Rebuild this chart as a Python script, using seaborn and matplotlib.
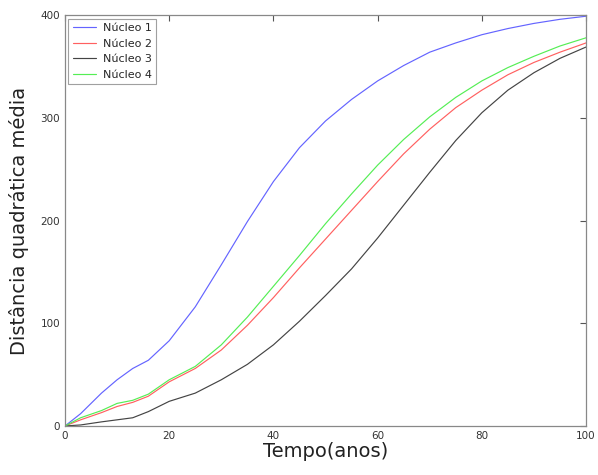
import numpy as np
import pandas as pd
import matplotlib
matplotlib.use('Agg')
import matplotlib.pyplot as plt
import seaborn as sns

# tempo (anos) and mean squared distance
tempo = [0, 3, 7, 10, 13, 16, 20, 25, 30, 35, 40, 45, 50, 55, 60, 65, 70, 75, 80, 85, 90, 95, 100]
nucleo1 = [0, 12, 32, 45, 56, 64, 83, 116, 157, 199, 238, 271, 297, 318, 336, 351, 364, 373, 381, 387, 392, 396, 399]
nucleo2 = [0, 6, 13, 19, 23, 29, 43, 56, 74, 98, 125, 154, 182, 210, 238, 265, 289, 310, 327, 342, 354, 364, 373]
nucleo3 = [0, 1, 4, 6, 8, 14, 24, 32, 45, 60, 79, 102, 127, 153, 183, 215, 247, 278, 305, 327, 344, 358, 369]
nucleo4 = [0, 8, 15, 22, 25, 31, 45, 58, 79, 106, 136, 166, 197, 226, 254, 279, 301, 320, 336, 349, 360, 370, 378]

labels = ['Núcleo 1', 'Núcleo 2', 'Núcleo 3', 'Núcleo 4']
colors = ['#6464ff', '#ff6060', '#444444', '#55ee55']

df = pd.DataFrame({
    'Tempo': tempo * 4,
    'Dist': nucleo1 + nucleo2 + nucleo3 + nucleo4,
    'Serie': np.repeat(labels, len(tempo)),
})

sns.set_style('white')
fig = plt.figure(figsize=(5.98, 4.75), dpi=100)
ax = fig.add_axes([0.1087, 0.1032, 0.8713, 0.8648])

sns.lineplot(data=df, x='Tempo', y='Dist', hue='Serie', palette=colors,
             linewidth=0.85, ax=ax)

ax.set_xlim(0, 100)
ax.set_ylim(0, 400)
ax.set_xticks([0, 20, 40, 60, 80, 100])
ax.set_yticks([0, 100, 200, 300, 400])
ax.tick_params(direction='in', top=True, right=True, length=4, width=0.8,
               color='#555555', labelsize=7.5, labelcolor='#333333')
for s in ax.spines.values():
    s.set_color('#888888')
    s.set_linewidth(0.9)

ax.set_xlabel('Tempo(anos)', fontsize=14, color='#222222', labelpad=1)
ax.set_ylabel('Distância quadrática média', fontsize=14, color='#222222', labelpad=8)

leg = ax.legend(loc='upper left', fontsize=8, frameon=True, fancybox=False,
                edgecolor='#888888', handlelength=2.1, handletextpad=0.6,
                borderaxespad=0.3, labelspacing=0.5, borderpad=0.4)
leg.get_frame().set_linewidth(0.8)

fig.savefig('out.png', dpi=100)
